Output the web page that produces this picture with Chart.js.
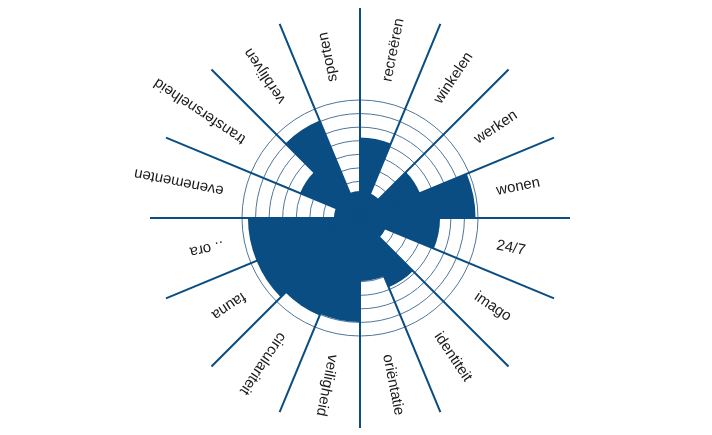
<!DOCTYPE html>
<html>
<head>
<meta charset="utf-8">
<script src="https://cdn.jsdelivr.net/npm/chart.js@4.4.1/dist/chart.umd.min.js"></script>
<style>
  html, body { margin: 0; padding: 0; background: #fff; }
  canvas { display: block; }
</style>
</head>
<body>
<canvas id="myChart" width="712" height="435"></canvas>
<script>
const categories = [
    'recreëren', 'winkelen', 'werken', 'wonen', '24/7', 'imago', 'identiteit', 'oriëntatie',
    'veiligheid', 'circulariteit', 'fauna', '.. ora', 'evenementen', 'transfersnelheid', 'verblijven', 'sporten'
];
const scores = [5.24, 1.25, 4.09, 7.82, 5.2, 1.33, 4.83, 3.94, 6.97, 7.08, 7.56, 7.56, 1.22, 4.09, 7.08, 1.29];
const scaleMin = -0.7;
const scaleMax = 8;

const fillColor = '#0a4d83';

// spokes between the segments, reaching past the outer ring
const spokesPlugin = {
    id: 'spokes',
    beforeDatasetsDraw(chart) {
        const scale = chart.scales.r;
        const ctx = chart.ctx;
        const len = scale.drawingArea * 1.78;
        ctx.save();
        ctx.strokeStyle = fillColor;
        ctx.lineWidth = 2;
        categories.forEach((c, i) => {
            const a = scale.getIndexAngle(i) - Math.PI / 2;
            ctx.beginPath();
            ctx.moveTo(scale.xCenter, scale.yCenter);
            ctx.lineTo(scale.xCenter + len * Math.cos(a), scale.yCenter + len * Math.sin(a));
            ctx.stroke();
        });
        ctx.restore();
    }
};

// radial labels, reading outward from the centre
const radialLabelsPlugin = {
    id: 'radialLabels',
    afterDraw(chart) {
        const scale = chart.scales.r;
        const ctx = chart.ctx;
        const step = Math.PI * 2 / categories.length;
        const start = scale.drawingArea * 1.18;
        ctx.save();
        ctx.font = '15px "Liberation Sans", Arial, sans-serif';
        ctx.fillStyle = '#1a1a1a';
        ctx.textAlign = 'left';
        ctx.textBaseline = 'middle';
        categories.forEach((c, i) => {
            const a = scale.getIndexAngle(i) + step / 2 - Math.PI / 2;
            ctx.save();
            ctx.translate(scale.xCenter, scale.yCenter);
            ctx.rotate(a);
            ctx.fillText(c, start, 0);
            ctx.restore();
        });
        ctx.restore();
    }
};

const ctx = document.getElementById('myChart');

new Chart(ctx, {
    type: 'polarArea',
    data: {
        labels: categories,
        datasets: [{
            data: scores,
            backgroundColor: fillColor,
            borderWidth: 0
        }]
    },
    options: {
        responsive: false,
        animation: false,
        layout: {
            padding: { left: 242, right: 234, top: 100, bottom: 99 }
        },
        plugins: {
            legend: { display: false },
            tooltip: { enabled: false }
        },
        scales: {
            r: {
                min: scaleMin,
                max: scaleMax,
                startAngle: 0,
                ticks: { display: false, stepSize: 1 },
                grid: { circular: true, color: '#4f7599', lineWidth: 1 },
                angleLines: { display: false },
                pointLabels: { display: false }
            }
        }
    },
    plugins: [spokesPlugin, radialLabelsPlugin]
});
</script>
</body>
</html>
